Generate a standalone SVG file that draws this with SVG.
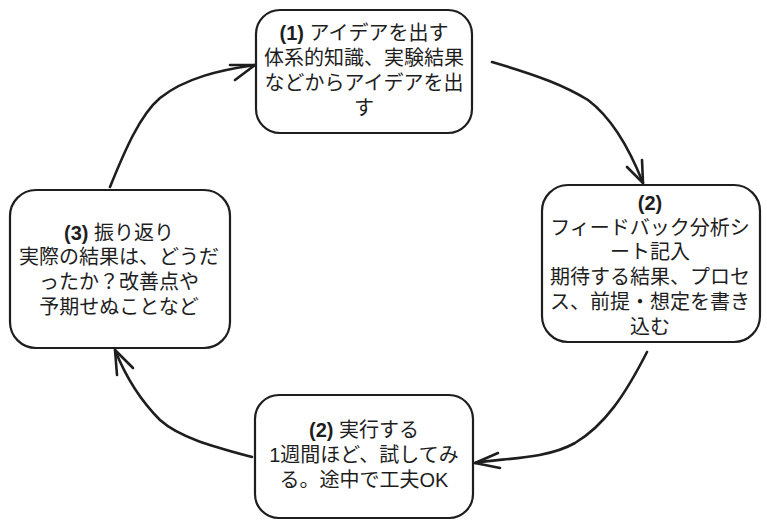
<svg xmlns="http://www.w3.org/2000/svg" width="767" height="528" viewBox="0 0 767 528">
<style>
.box{fill:#fff;stroke:#1e1e1e;stroke-width:2.2}
.t{font-family:"Liberation Sans","Noto Sans CJK JP",sans-serif;font-size:20px;fill:#1e1e1e;text-anchor:middle}
.c{fill:none;stroke:#1e1e1e;stroke-width:2.6;stroke-linecap:round;stroke-linejoin:round}
</style>
<rect width="767" height="528" fill="#fff"/>
<g id="node1">
<rect class="box" x="256" y="10" width="216" height="123" rx="24"/>
<text class="t" x="364" y="40"><tspan font-weight="bold">(1)</tspan> アイデアを出す</text>
<text class="t" x="364" y="65">体系的知識、実験結果</text>
<text class="t" x="364" y="90">などからアイデアを出</text>
<text class="t" x="364" y="115">す</text>
</g>
<g id="node2">
<rect class="box" x="542" y="185" width="218" height="157" rx="26"/>
<text class="t" x="650" y="210" font-weight="bold">(2)</text>
<text class="t" x="650" y="235">フィードバック分析シ</text>
<text class="t" x="650" y="259">ート記入</text>
<text class="t" x="650" y="284">期待する結果、プロセ</text>
<text class="t" x="650" y="309">ス、前提・想定を書き</text>
<text class="t" x="650" y="334">込む</text>
</g>
<g id="node3">
<rect class="box" x="10" y="190" width="220" height="158" rx="26"/>
<text class="t" x="119" y="240"><tspan font-weight="bold">(3)</tspan> 振り返り</text>
<text class="t" x="119" y="264">実際の結果は、どうだ</text>
<text class="t" x="119" y="289">ったか？改善点や</text>
<text class="t" x="119" y="314">予期せぬことなど</text>
</g>
<g id="node4">
<rect class="box" x="255" y="395" width="218" height="123" rx="24"/>
<text class="t" x="364" y="437"><tspan font-weight="bold">(2)</tspan> 実行する</text>
<text class="t" x="364" y="462">1週間ほど、試してみ</text>
<text class="t" x="364" y="487">る。途中で工夫OK</text>
</g>
<g id="connectors">
<path class="c" d="M492 62 C540 76 565 86 588 100 C612 118 630 150 643 183"/>
<path class="c" d="M627 167 L643 183 L642 160"/>
<path class="c" d="M647 352 C625 395 605 425 575 443 C545 460 500 458 475 463"/>
<path class="c" d="M498 453 L475 463 L500 468"/>
<path class="c" d="M252 457 C215 447 180 438 160 420 C140 400 125 375 115 350"/>
<path class="c" d="M117 375 L115 350 L133 368"/>
<path class="c" d="M110 187 C125 150 140 115 160 98 C185 78 220 70 255 65"/>
<path class="c" d="M230 65 L255 65 L235 80"/>
</g>
</svg>
